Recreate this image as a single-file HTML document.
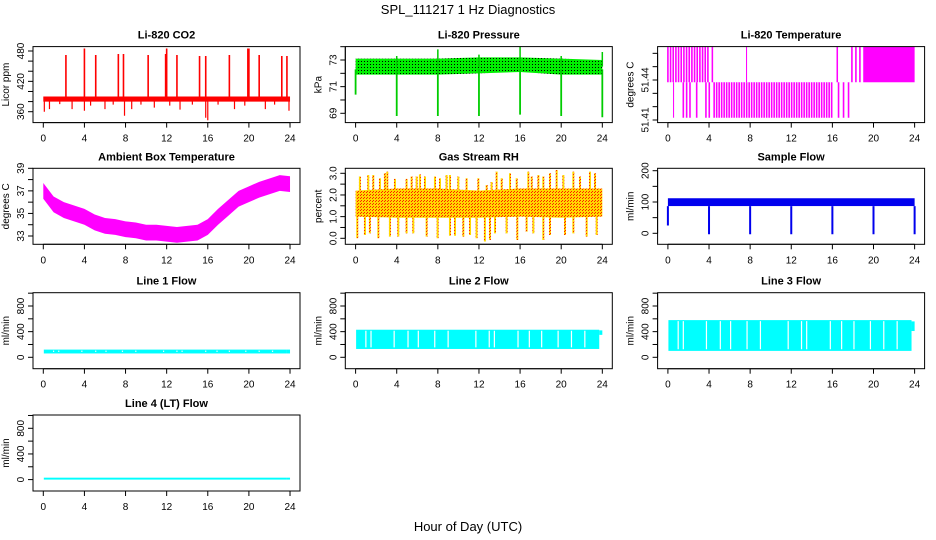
<!DOCTYPE html>
<html><head><meta charset="utf-8"><style>
html,body{margin:0;padding:0;background:#fff}
svg{display:block;font-family:"Liberation Sans",Arial,sans-serif}
</style></head><body>
<svg id="chart" width="936" height="540" viewBox="0 0 936 540" xmlns="http://www.w3.org/2000/svg">
<defs>
<pattern id="pGreen" width="3" height="3" patternUnits="userSpaceOnUse"><rect width="3" height="3" fill="#00ee00"/><rect x="1" y="1" width="1" height="1" fill="#000"/></pattern>
<pattern id="pRH" width="3" height="3" patternUnits="userSpaceOnUse"><rect width="3" height="3" fill="#ffd800"/><rect width="1" height="1" fill="#ff2000"/><rect x="1" y="2" width="1" height="1" fill="#ff2000"/></pattern>
</defs>
<text x="468" y="14" font-size="13" text-anchor="middle">SPL_111217  1 Hz Diagnostics</text>
<text x="468" y="531" font-size="13" text-anchor="middle">Hour of Day (UTC)</text>
</svg>
<script>
const xTicks=[0,4,8,12,16,20,24];
const hours4=[0,4,8,12,16,20,24];
// CO2
const co2BandLo=[380,380,380,380,380,380,380];
const co2BandHi=[390,390,390,390,390,390,390];
const co2Spikes=[[2.2,472],[4.0,485],[5.1,472],[7.3,474],[7.8,474],[10.2,472],[11.9,474],[12.0,485],[13.0,472],[15.2,470],[15.8,470],[18.1,472],[19.9,485],[20.0,485],[21.0,472],[23.2,470],[23.7,470]];
const co2Dips=[[0.1,360],[0.6,365],[1.6,375],[2.8,365],[4.0,362],[4.6,372],[6.0,365],[6.8,374],[7.9,352],[8.6,365],[9.5,374],[10.8,368],[12.3,372],[13.3,364],[14.5,374],[15.8,348],[16.0,343],[17.0,374],[18.6,365],[19.6,372],[21.6,365],[22.5,374],[23.9,362]];
// Pressure
const presLo=[71.9,71.9,71.9,72.0,72.1,71.9,71.9];
const presHi=[73.1,73.1,73.1,73.2,73.2,73.1,73.0];
const presDips=[[0,70.4],[4,68.8],[8,68.8],[12,68.8],[16,68.9],[20,68.8],[24,68.7]];
const presPeaks=[[4,73.3],[8,73.8],[12,73.4],[16,74.0],[20,73.3],[24,73.6]];
// Li-820 temperature levels and intervals [start,end,density]
const tempLevels=[51.4117,51.4383,51.465];
const tempHigh=[[0,4.0,0.75],[4.25,4.4,1],[7.6,7.7,1],[16.4,16.55,1],[17.9,19,0.5],[19,24,1]];
const tempLow=[[0.5,0.6,1],[1.5,2.2,0.6],[2.8,3.1,0.6],[3.7,4.1,0.6],[4.5,16.1,0.8],[16.6,17.9,0.4]];
// Ambient box temperature (hourly centre)
const ambHours=[0,1,2,3,4,5,6,7,8,9,10,11,12,13,14,15,16,17,18,19,20,21,22,23,24];
const ambCenter=[37.0,35.8,35.3,35.0,34.7,34.2,33.9,33.8,33.6,33.5,33.3,33.3,33.2,33.1,33.2,33.3,33.8,34.7,35.5,36.3,36.7,37.1,37.4,37.7,37.6];
const ambHalf=0.7;
// Gas stream RH
const rhLo=[1.0,0.95,0.95,0.95,1.0,0.95,1.0];
const rhHi=[2.2,2.3,2.3,2.2,2.3,2.3,2.3];
const rhUp=[[0.42,2.85],[1.23,2.92],[1.72,2.92],[2.37,2.77],[2.85,3.0],[3.08,3.08],[3.83,2.74],[4.96,2.74],[5.45,2.85],[5.94,2.85],[6.26,2.95],[6.75,2.85],[7.72,2.85],[8.21,2.77],[8.85,2.92],[9.18,2.92],[9.99,2.85],[10.8,2.77],[11.94,2.77],[12.75,2.46],[13.23,2.6],[13.72,3.08],[14.21,2.77],[15.02,3.0],[15.67,2.77],[16.8,3.08],[17.13,2.85],[17.78,2.92],[18.26,2.85],[18.91,3.0],[19.56,3.15],[20.21,2.92],[21.18,3.08],[21.83,2.85],[22.8,3.08],[23.29,3.0]];
const rhDown=[[0.16,0],[0.91,0.15],[1.39,0.23],[2.21,0],[3.34,0.08],[4.15,0.08],[4.96,0.23],[5.61,0.23],[6.91,0.08],[7.98,0],[9.18,0.12],[9.67,0.12],[10.48,0.08],[11.13,0.15],[11.77,0],[12.58,-0.15],[13.07,-0.08],[13.56,0.23],[14.69,0.23],[15.73,-0.08],[16.64,0.31],[17.29,0.23],[18.26,-0.08],[18.91,0.15],[20.37,0.15],[21.18,0.23],[22.48,0.08],[23.45,0.15]];
// Sample flow
const sfBand=[87,112];
const sfDips=[[0,25],[4,-3],[8,-3],[12,-3],[16,-3],[20,-3],[24,-3]];
// Line flows
const flowGaps=[1.0,1.5,3.75,5.1,6.1,7.7,9.0,11.7,13.0,13.5,15.8,16.9,18.1,19.7,21.0,22.3];
const line1Band=[60,120];
const line2Band=[130,430];
const line2Tail=[350,420];
const line3Band=[100,580];
const line3Tail=[410,560];
const line4Band=[0,30];

const NS='http://www.w3.org/2000/svg';
const svg=document.getElementById('chart');
const rowTop=[46.6,168.3,292.7,415];
function mk(tag,attrs,parent){const e=document.createElementNS(NS,tag);for(const k in attrs)e.setAttribute(k,attrs[k]);(parent||svg).appendChild(e);return e;}
function sx(p,h){return 43.3+312.3*p.col+h*10.28;}
function sy(p,v){return rowTop[p.row]+p.p1+(v-p.v1)*(p.p2-p.p1)/(p.v2-p.v1);}

const panels=[
 {key:'co2',col:0,row:0,title:'Li-820 CO2',ylab:'Licor ppm',v1:360,p1:65.1,v2:480,p2:4.4,ticks:[360,380,400,420,440,460,480],labels:['360','420','480']},
 {key:'pres',col:1,row:0,title:'Li-820 Pressure',ylab:'kPa',v1:73,p1:13.4,v2:69,p2:66.7,ticks:[69,70,71,72,73,74],labels:['69','71','73']},
 {key:'temp',col:2,row:0,title:'Li-820 Temperature',ylab:'degrees C',v1:51.41,p1:73.4,v2:51.44,p2:33.4,ticks:[51.41,51.42,51.43,51.44,51.45,51.46],labels:['51.41','51.44']},
 {key:'amb',col:0,row:1,title:'Ambient Box Temperature',ylab:'degrees C',v1:39,p1:0,v2:33,p2:67.7,ticks:[33,34,35,36,37,38,39],labels:['33','35','37','39']},
 {key:'rh',col:1,row:1,title:'Gas Stream RH',ylab:'percent',v1:3,p1:5,v2:0,p2:70,ticks:[0,0.5,1,1.5,2,2.5,3],labels:['0.0','1.0','2.0','3.0']},
 {key:'sf',col:2,row:1,title:'Sample Flow',ylab:'ml/min',v1:200,p1:2.4,v2:0,p2:65,ticks:[0,50,100,150,200],labels:['0','100','200']},
 {key:'l1',col:0,row:2,title:'Line 1 Flow',ylab:'ml/min',v1:0,p1:64.6,v2:800,p2:13.3,ticks:[0,200,400,600,800,1000],labels:['0','400','800']},
 {key:'l2',col:1,row:2,title:'Line 2 Flow',ylab:'ml/min',v1:0,p1:64.6,v2:800,p2:13.3,ticks:[0,200,400,600,800,1000],labels:['0','400','800']},
 {key:'l3',col:2,row:2,title:'Line 3 Flow',ylab:'ml/min',v1:0,p1:64.6,v2:800,p2:13.3,ticks:[0,200,400,600,800,1000],labels:['0','400','800']},
 {key:'l4',col:0,row:3,title:'Line 4 (LT) Flow',ylab:'ml/min',v1:0,p1:64.6,v2:800,p2:13.3,ticks:[0,200,400,600,800,1000],labels:['0','400','800']}
];

function bandPoly(p,g,hs,lo,hi,fill,name){
  let pts=[];for(let i=0;i<hs.length;i++)pts.push(sx(p,hs[i])+','+sy(p,hi[i]));
  for(let i=hs.length-1;i>=0;i--)pts.push(sx(p,hs[i])+','+sy(p,lo[i]));
  const e=mk('polygon',{points:pts.join(' '),fill:fill},g);
  
  
}
function vline(p,g,h,a,b,col,w,name){
  const e=mk('line',{x1:sx(p,h),x2:sx(p,h),y1:sy(p,a),y2:sy(p,b),stroke:col,'stroke-width':w},g);
  
  
}
function rectV(p,g,h0,h1,a,b,fill,op,name){
  const y0=sy(p,b),y1=sy(p,a);
  const e=mk('rect',{x:sx(p,h0),y:Math.min(y0,y1),width:Math.max(1,sx(p,h1)-sx(p,h0)),height:Math.abs(y1-y0),fill:fill,'fill-opacity':op},g);
  
  
}
function stripes(p,g,s,a,b,name){
  // vertical magenta strokes with white gaps according to density
  const x0=sx(p,s[0]),x1=sx(p,s[1]);
  if(s[2]>=1||x1-x0<2){rectV(p,g,s[0],s[1],a,b,'#ff00ff',1,name);return;}
  const step=2/ s[2];
  for(let x=x0;x<x1;x+=step){
    const h=(x-43.3-312.3*p.col)/10.28;
    vline(p,g,h,a,b,'#ff00ff',1.6,name);
  }
}

panels.forEach(p=>{
  const top=rowTop[p.row], bx=sx(p,0)-10.3, bw=267;
  const g=mk('g',{});
  
  
  const t=mk('text',{x:bx+bw/2,y:top-8,'font-size':11,'font-weight':'bold','text-anchor':'middle'},g);
  t.textContent=p.title;
  
  
  const clip=mk('clipPath',{id:'c'+p.key},g);
  mk('rect',{x:bx,y:top,width:bw,height:76},clip);
  const d=mk('g',{'clip-path':'url(#c'+p.key+')'},g);
  
  
  if(p.key==='co2'){
    bandPoly(p,d,hours4,co2BandLo,co2BandHi,'#ff0000','co2-band');
    co2Spikes.forEach(s=>vline(p,d,s[0],385,s[1],'#ff0000',1.6,'co2-spike'));
    co2Dips.forEach(s=>vline(p,d,s[0],385,s[1],'#ff0000',1.2,'co2-dip'));
  } else if(p.key==='pres'){
    bandPoly(p,d,hours4,presLo,presHi,'url(#pGreen)','pressure-band');
    presDips.forEach(s=>vline(p,d,s[0],72.3,s[1],'#00cc00',1.8,'pressure-dip'));
    presPeaks.forEach(s=>vline(p,d,s[0],72.5,s[1],'#00cc00',1.5,'pressure-peak'));
  } else if(p.key==='temp'){
    tempHigh.forEach(s=>stripes(p,d,s,tempLevels[1],tempLevels[2],'temp-high'));
    tempLow.forEach(s=>stripes(p,d,s,tempLevels[0],tempLevels[1],'temp-low'));
  } else if(p.key==='amb'){
    bandPoly(p,d,ambHours,ambCenter.map(v=>v-ambHalf),ambCenter.map(v=>v+ambHalf),'#ff00ff','ambient-band');
  } else if(p.key==='rh'){
    bandPoly(p,d,hours4,rhLo,rhHi,'url(#pRH)','rh-band');
    rhUp.forEach(s=>vline(p,d,s[0],1.6,s[1],'url(#pRH)',2,'rh-spike'));
    rhDown.forEach(s=>vline(p,d,s[0],1.6,s[1],'url(#pRH)',2,'rh-dip'));
  } else if(p.key==='sf'){
    rectV(p,d,0,24,sfBand[0],sfBand[1],'#0000ee',1,'sample-flow-band');
    sfDips.forEach(s=>vline(p,d,s[0],sfBand[0],s[1],'#0000ee',2,'sample-flow-dip'));
  } else {
    const band={l1:line1Band,l2:line2Band,l3:line3Band,l4:line4Band}[p.key];
    rectV(p,d,0.05,23.7,band[0],band[1],'#00ffff',1,'flow-band');
    const tail=p.key==='l2'?line2Tail:p.key==='l3'?line3Tail:band;
    rectV(p,d,23.7,24,tail[0],tail[1],'#00ffff',1,'flow-tail');
    if(p.key!=='l4')flowGaps.forEach(h=>vline(p,d,h,band[0]+25,band[1]-15,'#ffffff',1.2,'flow-gap'));
  }
  const box=mk('rect',{x:bx,y:top,width:bw,height:76,fill:'none',stroke:'#000','stroke-width':1},g);
  
  
  const by=top+76;
  const xa=mk('line',{x1:sx(p,0),x2:sx(p,24),y1:by,y2:by,stroke:'#000'},g);
  
  
  xTicks.forEach(v=>{
    const tk=mk('line',{x1:sx(p,v),x2:sx(p,v),y1:by,y2:by+5,stroke:'#000'},g);
    
    
    const tl=mk('text',{x:sx(p,v),y:by+19,'font-size':10,'text-anchor':'middle'},g);
    tl.textContent=v;
    
    
  });
  const ya=mk('line',{x1:bx,x2:bx,y1:sy(p,p.ticks[0]),y2:sy(p,p.ticks[p.ticks.length-1]),stroke:'#000'},g);
  
  
  p.ticks.forEach(v=>{
    const tk=mk('line',{x1:bx-5,x2:bx,y1:sy(p,v),y2:sy(p,v),stroke:'#000'},g);
    
    
  });
  p.labels.forEach(s=>{
    const yy=sy(p,parseFloat(s)), xx=bx-9;
    const tl=mk('text',{x:xx,y:yy,'font-size':10,'text-anchor':'middle',transform:'rotate(-90 '+xx+' '+yy+')'},g);
    tl.textContent=s;
    
    
  });
  const yl=mk('text',{x:bx-24,y:top+38,'font-size':10,'text-anchor':'middle',transform:'rotate(-90 '+(bx-24)+' '+(top+38)+')'},g);
  yl.textContent=p.ylab;
  
  
});
</script>
</body></html>
